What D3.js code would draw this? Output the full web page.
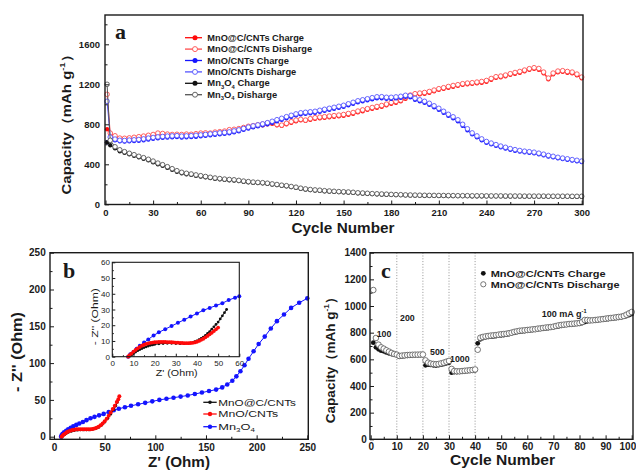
<!DOCTYPE html>
<html><head><meta charset="utf-8">
<script src="https://cdn.jsdelivr.net/npm/d3@7"></script>
<style>body{margin:0;background:#fff}svg{display:block}</style>
</head><body><svg id="chart" width="636" height="471"></svg>
<script>
// ---------- Panel a data (cycle 1, then every 3rd cycle up to 300) ----------
const cyclesA = [1].concat(d3.range(3, 301, 3));
const redCharge = [750,700,675,655,650,655,660,665,670,680,685,695,700,695,690,688,690,692,690,695,700,705,700,710,715,720,735,740,745,755,770,775,785,790,800,805,790,785,800,815,830,840,835,845,855,860,865,870,875,880,885,895,905,920,930,945,955,965,975,990,1005,1015,1030,1055,1080,1095,1100,1105,1115,1130,1145,1155,1165,1175,1185,1195,1200,1205,1210,1215,1225,1245,1265,1270,1280,1295,1305,1315,1330,1345,1355,1345,1310,1250,1300,1320,1325,1315,1310,1290,1260];
const redDischarge = [1100,712,685,662,660,664,670,676,682,690,698,712,708,702,698,700,698,702,700,706,712,714,712,722,726,732,746,750,757,768,780,786,795,802,812,815,798,792,810,826,842,850,842,856,866,872,876,882,887,892,898,908,918,932,944,956,968,978,988,1002,1018,1028,1042,1068,1092,1106,1112,1118,1128,1142,1156,1166,1178,1188,1196,1206,1212,1216,1222,1228,1238,1258,1276,1282,1292,1306,1318,1328,1342,1356,1366,1358,1322,1262,1312,1332,1336,1328,1322,1302,1272];
const blueCharge = [620,660,640,630,628,630,632,635,640,648,655,660,665,668,670,672,668,670,672,675,680,685,690,695,700,705,710,720,730,745,758,770,780,790,800,815,830,845,860,875,890,900,905,910,915,925,935,945,955,965,975,990,1005,1020,1030,1040,1050,1060,1060,1055,1055,1060,1065,1075,1070,1045,1030,1015,995,970,945,915,885,860,830,785,740,700,670,640,615,600,585,570,558,545,535,527,520,515,510,500,490,478,470,460,452,445,437,430,422];
const blueDischarge = [1030,672,652,640,638,642,645,648,654,662,668,674,678,682,684,686,682,684,686,690,694,698,704,708,714,718,724,734,744,758,772,784,794,804,816,830,846,860,876,890,904,915,920,925,930,940,950,960,970,980,990,1005,1020,1035,1045,1055,1066,1075,1076,1070,1070,1074,1080,1090,1086,1060,1045,1030,1010,985,960,930,900,875,845,800,755,714,684,654,628,612,597,582,570,557,547,538,531,526,521,511,501,489,480,470,462,455,447,440,432];
const blackCharge = [620,590,560,530,515,500,485,470,455,440,420,400,385,365,345,325,310,300,295,285,278,270,262,255,250,245,240,238,232,225,220,215,212,210,205,198,192,185,180,172,165,155,148,142,138,135,130,128,125,122,120,118,115,110,108,105,102,100,98,96,95,93,92,90,89,88,87,86,85,85,84,84,83,83,82,82,82,81,81,81,80,80,80,80,79,79,79,79,78,78,78,78,78,77,77,77,77,77,76,76,76];
const blackDischarge = [1200,640,575,545,526,510,496,480,466,450,432,412,396,376,356,336,320,310,303,294,286,278,270,263,257,252,248,245,239,232,227,222,219,216,211,204,198,191,186,178,171,161,154,148,144,141,136,133,130,127,125,123,120,115,113,110,107,105,103,101,99,97,96,94,93,92,91,90,89,89,88,88,87,87,86,86,86,85,85,85,84,84,84,84,83,83,83,83,82,82,82,82,82,81,81,81,81,81,80,80,80];
const seriesA = ["MnO@C/CNTs Charge","MnO@C/CNTs Disharge","MnO/CNTs Charge","MnO/CNTs Disharge","Mn3O4 Charge","Mn3O4 Disharge"];
const xTicksA = [0,30,60,90,120,150,180,210,240,270,300];
const yTicksA = [0,400,800,1200,1600];

// ---------- Panel b data (Nyquist) ----------
const mn3o4Re = [7,7.5,8.5,10,12,14,16.5,19,22,25,28.5,32,36,40,44.5,49,54,59,64,70,76,83,90,97,104,111,118,125,132,139,146,153,160,166,171,176,180,184,188,192,197,202,208,214,220,227,234,242,250];
const mn3o4Im = [0,2,4,6,8,10,12,14,16,18,20,22.5,25,27,29,31,33.5,36,38,40,42,44,46,48,50,51.5,53,54.5,56,58,60,62,64,67,71,76,82,89,97,106,116,126,136,147,157,166,175,182,188];
const mncRe = [8,9,10.5,12,14,17,20,23,26,29,32,35,38,41,44,47,50,53,56,59,61,62.5];
const mncIm = [0,1.5,3,4.5,6,7.5,8.5,9,9.5,9.5,9.5,9.5,10,11,13,16,20,25,31,37,42,47];
const mnoRe = [7.5,8.5,9.5,11,12.5,14,16,18,20,22,24,26,28,30,32,34,36,38,40,42,44,46,48,50,52,54,56,58,60,62,63.5,64.5];
const mnoIm = [0,1.5,3,4.5,6,7,8,9,9.5,10,10,10,10,10,10,10,10,10.5,11,12,13.5,15.5,18,21,24.5,28.5,33,37.5,42,47,51,55];
// inset (zoom of the high-frequency region)
const insMn3o4Re = [7.5,8.5,10,11.5,13,15,17,19.5,22,25,28,31,34,37,40,43,46,49,52,55,58,60];
const insMn3o4Im = [0,1.5,3,5,7,9,11,13.5,15.5,17.5,19.5,21.5,23.5,25.5,27.5,29.5,31,32.5,34,36,37.5,38.5];
const insMncRe = [8,9,10,11,12,13,14,15,16,17,18,19,20,22,24,26,28,30,32,34,36,38,39,40,41,42,43,44,45,46,47,48,49,50,51,52,53,54];
const insMncIm = [0,1,2,3,3.8,4.5,5.2,5.8,6.3,6.8,7.2,7.5,7.8,8.2,8.4,8.5,8.5,8.4,8.3,8.3,8.5,9,9.5,10,10.8,11.6,12.5,13.5,14.8,16,17.5,19,20.5,22,24,26,28,30];
const insMnoRe = [7.5,8,9,10,11,12,13,14,15,16,17,18,19,20,21,22,23,24,25,26,27,28,29,30,31,32,33,34,35,36,37,38,39,40,41,42,43,44,45,46,47,48,49,50];
const insMnoIm = [0,0.8,2,3.2,4.3,5.3,6.2,7,7.6,8.1,8.5,8.8,9,9.2,9.3,9.4,9.4,9.4,9.4,9.3,9.3,9.2,9.1,9,8.9,8.8,8.7,8.6,8.6,8.6,8.7,8.8,9.1,9.5,10,10.7,11.4,12.3,13.2,14.2,15.2,16.3,17.4,18.5];
const seriesB = ["MnO@C/CNTs","MnO/CNTs","Mn3O4"];
const ticksB = [0,50,100,150,200,250];
const ticksInset = [0,10,20,30,40,50,60];

// ---------- Panel c data (rate capability) ----------
const cyclesC = d3.range(1, 101);
const rateCharge = [725,690,675,665,660,652,645,640,635,630, 620,622,625,627,628,630,630,630,631,632, 555,560,558,555,553,556,560,565,570,575, 500,505,505,506,508,510,512,514,516,518, 720,750,760,765,768,770,772,775,778,780, 782,785,790,795,800,805,808,810,812,815, 818,820,822,825,828,830,832,835,838,840, 845,848,852,855,858,860,862,864,866,868, 872,880,885,888,890,892,894,896,898,900, 902,905,908,910,912,915,920,925,932,940];
const rateDischarge = [1120,760,710,690,680,668,658,648,640,635, 625,628,630,632,633,634,635,635,636,636, 592,575,568,565,563,565,570,575,582,588, 528,512,510,510,512,514,516,518,520,524, 672,762,768,772,775,778,780,782,785,788, 790,792,796,800,806,810,814,816,818,820, 822,825,826,830,832,835,838,840,842,845, 850,855,858,860,862,865,866,868,870,872, 880,895,895,892,893,895,897,900,902,905, 908,910,912,915,918,920,925,935,945,955];
const rateSteps = [10,20,30,40];
const rateLabels = ["100","200","500","1000"];
const seriesC = ["MnO@C/CNTs Charge","MnO@C/CNTs Discharge"];
const xTicksC = [0,10,20,30,40,50,60,70,80,90,100];
const yTicksC = [0,200,400,600,800,1000,1200,1400];

// ---------- helpers ----------
const FONT = '"Liberation Sans", Arial, sans-serif';
const SERIF = '"Liberation Serif", "Times New Roman", serif';
const svg = d3.select("#chart");
const INK = "#1a1a1a";

function label(parent, x, y, parts, o) {
  const g = parent.append("g").attr("transform", `translate(${x},${y})` + (o.rot ? ` rotate(${o.rot})` : ""));
  const t = g.append("text").attr("text-anchor", o.anchor || "start")
    .attr("font-family", o.family || FONT).attr("font-size", o.size)
    .attr("font-weight", o.bold ? "bold" : "normal").attr("fill", o.fill || INK);
  if (o.dy) t.attr("dy", o.dy);
  let off = 0;
  parts.forEach(p => {
    if (typeof p === "string") {
      const s = t.append("tspan").text(p);
      if (off) { s.attr("dy", -off); off = 0; }
    } else {
      const target = p.sup ? -o.size * 0.42 : o.size * 0.28;
      t.append("tspan").text(p.sup || p.sub).attr("font-size", o.size * 0.62).attr("dy", target - off);
      off = target;
    }
  });
  if (o.w) {
    const w = t.node().getComputedTextLength();
    if (w > 0) t.attr("transform", `scale(${o.w / w},1)`);
  }
  return g;
}

function axes(g, x, y, o) {
  const [fx0, fx1] = o.fx, [fy0, fy1] = o.fy;
  const fmt = d3.format("d");
  const style = sel => {
    sel.select(".domain").remove();
    sel.selectAll("line").attr("stroke", INK).attr("stroke-width", 1);
    sel.selectAll("text").attr("font-family", FONT).attr("font-size", o.fs)
      .attr("font-weight", o.bold ? "bold" : "normal").attr("fill", INK);
  };
  g.append("g").attr("transform", `translate(0,${fy1})`)
    .call(d3.axisBottom(x).tickValues(o.xminor).tickSize(-o.mt).tickFormat("")).call(style);
  g.append("g").attr("transform", `translate(${fx0},0)`)
    .call(d3.axisLeft(y).tickValues(o.yminor).tickSize(-o.mt).tickFormat("")).call(style);
  const xa = g.append("g").attr("transform", `translate(0,${fy1})`)
    .call(d3.axisBottom(x).tickValues(o.xt).tickSize(-o.tl).tickPadding(o.xp).tickFormat(fmt)).call(style);
  g.append("g").attr("transform", `translate(${fx0},0)`)
    .call(d3.axisLeft(y).tickValues(o.yt).tickSize(-o.tl).tickPadding(o.yp).tickFormat(fmt)).call(style);
  if (o.lastEnd) {
    xa.selectAll(".tick text").filter(d => d === o.xt[o.xt.length - 1])
      .attr("text-anchor", "end").attr("x", o.lastEnd);
  }
  g.append("rect").attr("x", fx0).attr("y", fy0).attr("width", fx1 - fx0).attr("height", fy1 - fy0)
    .attr("fill", "none").attr("stroke", INK).attr("stroke-width", o.sw || 1.4);
}

function series(g, xs, ys, xsc, ysc, st) {
  const pts = xs.map((v, i) => [xsc(v), ysc(ys[i])]);
  if (st.line) g.append("path").attr("d", d3.line()(pts)).attr("fill", "none")
    .attr("stroke", st.line).attr("stroke-width", st.lw || 1);
  g.append("g").selectAll("circle").data(pts).join("circle")
    .attr("cx", d => d[0]).attr("cy", d => d[1]).attr("r", st.r)
    .attr("fill", st.fill).attr("stroke", st.stroke || "none").attr("stroke-width", st.sw || 0.9);
}

function legendRow(g, x0, x1, mx, tx, y, st, parts, lo) {
  if (st.line) g.append("line").attr("x1", x0).attr("x2", x1).attr("y1", y).attr("y2", y)
    .attr("stroke", st.line).attr("stroke-width", 1.3);
  g.append("circle").attr("cx", mx).attr("cy", y).attr("r", st.r)
    .attr("fill", st.fill).attr("stroke", st.stroke || "none").attr("stroke-width", st.sw || 0.9);
  label(g, tx, y + lo.size * 0.36, parts, lo);
}

const RED = "#ff0a0a", RED2 = "#ff4d4d", BLUE = "#1414ff", BLUE2 = "#5555ff", BLK = "#111", GRY = "#555";

// ================= Panel a =================
{
  const g = svg.append("g");
  const x = d3.scaleLinear().domain([0, 300]).range([105.5, 581.7]);
  const y = d3.scaleLinear().domain([0, 1600]).range([204.3, 44.3]);
  const styles = [
    {line: RED, fill: RED, r: 2.2},
    {line: RED2, fill: "#fff", stroke: RED2, r: 2.3},
    {line: BLUE, fill: BLUE, r: 2.2},
    {line: BLUE2, fill: "#fff", stroke: BLUE2, r: 2.3},
    {line: BLK, fill: BLK, r: 2.2},
    {line: GRY, fill: "#fff", stroke: GRY, r: 2.3}
  ];
  const data = [redCharge, redDischarge, blueCharge, blueDischarge, blackCharge, blackDischarge];
  data.forEach((d, i) => series(g, cyclesA, d, x, y, styles[i]));
  axes(g, x, y, {fx: [105, 583], fy: [15, 204.5], xt: xTicksA, yt: yTicksA,
    xminor: d3.range(15, 300, 30), yminor: [200, 600, 1000, 1400, 1800],
    tl: 4, mt: 2.5, xp: 4.5, yp: 5, fs: 9.5, bold: true});
  label(g, 343, 233, ["Cycle Number"], {size: 14, bold: true, anchor: "middle", w: 103});
  label(g, 66, 121, ["Capacity（mAh g", {sup: "-1"}, "）"], {size: 13, bold: true, anchor: "middle", rot: -90, dy: "0.35em", w: 147});
  label(g, 115, 38.5, ["a"], {size: 22, bold: true, family: SERIF});
  const names = [
    ["MnO@C/CNTs Charge"], ["MnO@C/CNTs Disharge"], ["MnO/CNTs Charge"], ["MnO/CNTs Disharge"],
    ["Mn", {sub: "3"}, "O", {sub: "4"}, " Charge"], ["Mn", {sub: "3"}, "O", {sub: "4"}, " Disharge"]];
  const widths = [96.7, 105, 81.7, 89, 62.7, 70];
  names.forEach((p, i) => legendRow(g, 185, 202, 195, 207.3, 37.7 + i * 11.4,
    Object.assign({}, styles[i], {r: 2.5}), p, {size: 8.5, bold: true, w: widths[i]}));
}

// ================= Panel b =================
{
  const g = svg.append("g");
  const x = d3.scaleLinear().domain([0, 250]).range([54, 307.3]);
  const y = d3.scaleLinear().domain([0, 250]).range([436.7, 252.7]);
  series(g, mn3o4Re, mn3o4Im, x, y, {line: BLUE, fill: BLUE, r: 2.3});
  series(g, mncRe, mncIm, x, y, {line: BLK, fill: BLK, r: 1.5});
  series(g, mnoRe, mnoIm, x, y, {line: RED, fill: RED, r: 2});
  axes(g, x, y, {fx: [50, 308.3], fy: [252.7, 439.3], xt: ticksB, yt: ticksB,
    xminor: [25, 75, 125, 175, 225], yminor: [25, 75, 125, 175, 225],
    tl: 4, mt: 2.5, xp: 4.8, yp: 4.3, fs: 10, bold: true});
  label(g, 179, 467, ["Z' (Ohm)"], {size: 14, bold: true, anchor: "middle", w: 62});
  label(g, 17, 352, ["- Z'' (Ohm)"], {size: 14, bold: true, anchor: "middle", rot: -90, dy: "0.35em", w: 80});
  label(g, 63, 278, ["b"], {size: 22, bold: true, family: SERIF});
  // legend
  const lst = [{line: BLK, fill: BLK, r: 1.8}, {line: RED, fill: RED, r: 2.2}, {line: BLUE, fill: BLUE, r: 2.2}];
  const lparts = [["MnO@C/CNTs"], ["MnO/CNTs"], ["Mn", {sub: "3"}, "O", {sub: "4"}]];
  const lw = [77.7, 60, 36.7];
  [402.3, 414, 426.7].forEach((yy, i) => legendRow(g, 203.3, 216.7, 210, 218.3, yy, lst[i], lparts[i], {size: 9, w: lw[i]}));
  // inset
  const ig = g.append("g");
  ig.append("rect").attr("x", 112.3).attr("y", 262.3).attr("width", 127).attr("height", 94.4).attr("fill", "#fff");
  const xi = d3.scaleLinear().domain([0, 60]).range([112.3, 239.3]);
  const yi = d3.scaleLinear().domain([0, 60]).range([356.7, 262.3]);
  series(ig, insMn3o4Re, insMn3o4Im, xi, yi, {line: BLUE, fill: BLUE, r: 2});
  series(ig, insMncRe, insMncIm, xi, yi, {line: BLK, fill: BLK, r: 1.4});
  series(ig, insMnoRe, insMnoIm, xi, yi, {line: RED, fill: RED, r: 1.9});
  axes(ig, xi, yi, {fx: [112.3, 239.3], fy: [262.3, 356.7], xt: ticksInset, yt: ticksInset,
    xminor: d3.range(5, 60, 10), yminor: d3.range(5, 60, 10),
    tl: 3, mt: 1.5, xp: 3.3, yp: 2.3, fs: 8, bold: false, sw: 1.1});
  label(ig, 176.7, 376, ["Z' (Ohm)"], {size: 9.5, anchor: "middle", w: 42});
  label(ig, 94.3, 316.7, ["- Z'' (Ohm)"], {size: 9.5, anchor: "middle", rot: -90, dy: "0.35em", w: 57});
}

// ================= Panel c =================
{
  const g = svg.append("g");
  const x = d3.scaleLinear().domain([0, 100]).range([370.7, 631.7]);
  const y = d3.scaleLinear().domain([0, 1400]).range([439.3, 252.7]);
  rateSteps.forEach(s => g.append("line").attr("x1", x(s)).attr("x2", x(s)).attr("y1", 252.7).attr("y2", 439.3)
    .attr("stroke", "#888").attr("stroke-width", 0.9).attr("stroke-dasharray", "1,1.8"));
  series(g, cyclesC, rateCharge, x, y, {fill: BLK, r: 2.4});
  series(g, cyclesC, rateDischarge, x, y, {fill: "#fff", stroke: "#555", sw: 0.8, r: 2.8});
  axes(g, x, y, {fx: [370, 633], fy: [252.7, 439.3], xt: xTicksC, yt: yTicksC,
    xminor: d3.range(5, 100, 10), yminor: d3.range(100, 1400, 200),
    tl: 4, mt: 2.5, xp: 3.6, yp: 3.3, fs: 10, bold: true, lastEnd: 4});
  label(g, 502.5, 465, ["Cycle Number"], {size: 14, bold: true, anchor: "middle", w: 105});
  label(g, 330, 357, ["Capacity（mAh g", {sup: "-1"}, "）"], {size: 13, bold: true, anchor: "middle", rot: -90, dy: "0.35em", w: 133});
  label(g, 381, 278, ["c"], {size: 22, bold: true, family: SERIF});
  const ann = [[376.7, 337], [400, 320.5], [430, 355], [450, 361.5]];
  rateLabels.forEach((t, i) => label(g, ann[i][0], ann[i][1], [t], {size: 8.5, bold: true, w: t.length * 4.9}));
  label(g, 541.7, 317, ["100 mA g", {sup: "-1"}], {size: 8.5, bold: true, w: 45});
  legendRow(g, 0, 0, 483.3, 490.7, 273.3, {fill: BLK, r: 2.4}, [seriesC[0]], {size: 9.5, bold: true, w: 115});
  legendRow(g, 0, 0, 483.3, 490.7, 284.3, {fill: "#fff", stroke: "#555", sw: 0.8, r: 2.6}, [seriesC[1]], {size: 9.5, bold: true, w: 129});
}
</script></body></html>
